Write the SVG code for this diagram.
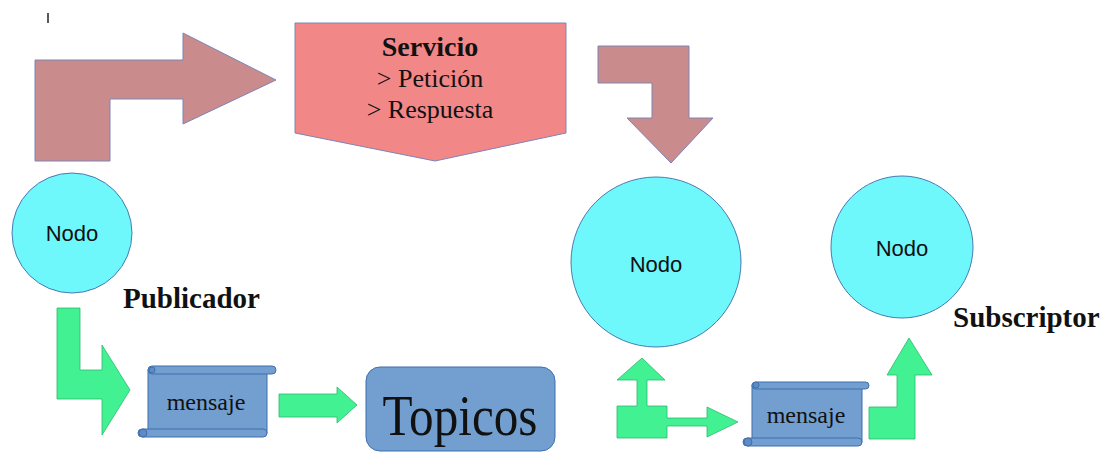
<svg xmlns="http://www.w3.org/2000/svg" width="1104" height="453" viewBox="0 0 1104 453">
<style>
.brown{fill:#c98b8b;stroke:#7d84b8;stroke-width:1}
.salmon{fill:#f28787;stroke:#7d84b8;stroke-width:1}
.node{fill:#6ff8fc;stroke:#4a7ab0;stroke-width:1}
.blue{fill:#729fcf;stroke:#3f6fae;stroke-width:1}
.curl{fill:#5d8bc4;stroke:#3f6fae;stroke-width:1}
.green{fill:#42f192;stroke:#2fb970;stroke-width:0.8}
.serif{font-family:"Liberation Serif","Times New Roman",serif;fill:#111}
.sans{font-family:"Liberation Sans",Arial,sans-serif;fill:#111}
.bold{font-weight:bold}
</style>
<rect x="0" y="0" width="1104" height="453" fill="#ffffff"/>
<line x1="48" y1="13" x2="48" y2="23" stroke="#222" stroke-width="1.5"/>

<g id="servicio">
<polygon class="salmon" points="295,23 566,23 566,133 435,161 295,133"/>
<text class="serif bold" x="430" y="56" font-size="28" text-anchor="middle">Servicio</text>
<text class="serif" x="430" y="87" font-size="26" text-anchor="middle">&gt; Petición</text>
<text class="serif" x="430" y="118" font-size="26" text-anchor="middle">&gt; Respuesta</text>
</g>

<g id="nodo-publicador">
<ellipse class="node" cx="72" cy="233" rx="60" ry="60"/>
<text class="sans" x="72" y="241" font-size="22" text-anchor="middle">Nodo</text>
</g>
<g id="label-publicador">
<text class="serif bold" x="123" y="308" font-size="29">Publicador</text>
</g>

<g id="nodo-servicio">
<circle class="node" cx="656" cy="262" r="85"/>
<text class="sans" x="656" y="272" font-size="22" text-anchor="middle">Nodo</text>
</g>

<g id="nodo-subscriptor">
<circle class="node" cx="902" cy="247" r="71"/>
<text class="sans" x="902" y="256" font-size="22" text-anchor="middle">Nodo</text>
</g>
<g id="label-subscriptor">
<text class="serif bold" x="953" y="327" font-size="29">Subscriptor</text>
</g>

<g id="mensaje-1">
<rect class="blue" x="148" y="370" width="119" height="63"/>
<rect class="blue" x="148" y="366" width="128" height="8" rx="4"/>
<rect class="blue" x="138" y="429" width="129" height="8" rx="4"/>
<circle class="curl" cx="152" cy="370" r="3"/>
<circle class="curl" cx="143" cy="433" r="4"/>
<text class="serif" x="206" y="410" font-size="24" text-anchor="middle">mensaje</text>
</g>

<g id="topicos">
<rect class="blue" x="366" y="367" width="189" height="84" rx="14"/>
<text class="serif" x="460" y="435" font-size="56" text-anchor="middle" textLength="155" lengthAdjust="spacingAndGlyphs">Topicos</text>
</g>

<g id="mensaje-2">
<rect class="blue" x="752" y="385" width="110" height="57"/>
<rect class="blue" x="752" y="382" width="117" height="7" rx="3.5"/>
<rect class="blue" x="743" y="438" width="119" height="8" rx="4"/>
<circle class="curl" cx="756" cy="385" r="3"/>
<circle class="curl" cx="748" cy="442" r="4"/>
<text class="serif" x="806" y="423" font-size="24" text-anchor="middle">mensaje</text>
</g>

<g id="connectors">
<polygon class="brown" points="35,161 35,60 183,60 183,33 276,80 183,124 183,99 110,99 110,161"/>
<polygon class="brown" points="598,46 689,46 689,118 713,118 671,163 627,118 652,118 652,83 598,83"/>
<polygon class="green" points="57,308 80,308 80,370 102,370 102,345 130,390 102,435 102,399 57,399"/>
<polygon class="green" points="279,394 337,394 337,387 357,405 337,423 337,417 279,417"/>
<polygon class="green" points="617,438 617,406 637,406 637,380 617,380 642,358 665,380 647,380 647,406 667,406 667,418 707,418 707,407 738,422 707,437 707,426 667,426 667,438"/>
<polygon class="green" points="869,439 869,407 897,407 897,375 887,375 909,338 932,375 915,375 915,439"/>
</g>
</svg>
